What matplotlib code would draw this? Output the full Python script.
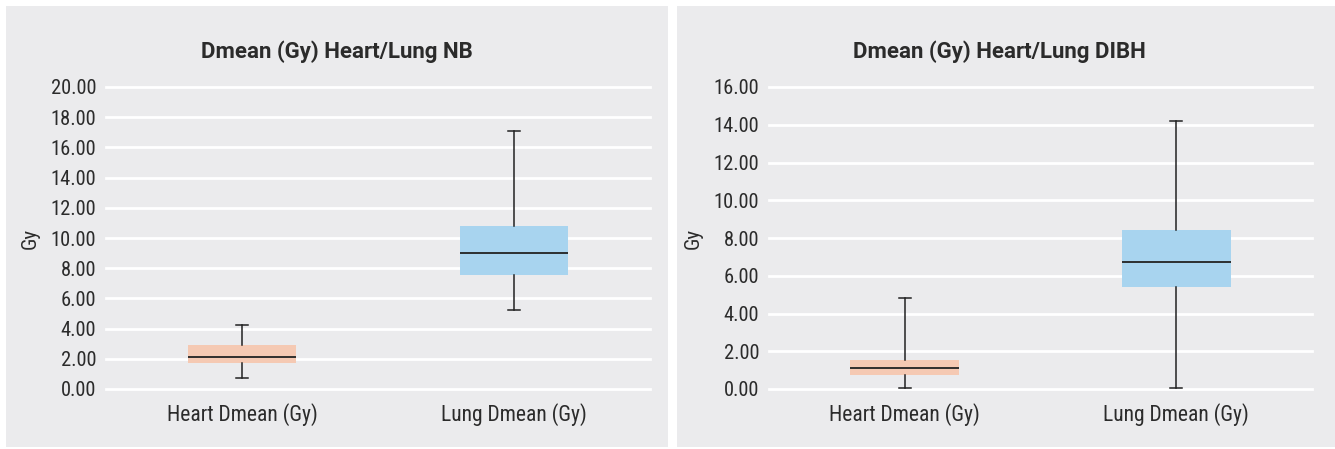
import matplotlib
matplotlib.use("Agg")
import matplotlib.pyplot as plt
from matplotlib.patches import Rectangle

# Box plot values (Gy)
categories = ["Heart Dmean (Gy)", "Lung Dmean (Gy)"]

nb_min = [0.70, 5.25]
nb_q1 = [1.72, 7.58]
nb_med = [2.15, 9.00]
nb_q3 = [2.93, 10.78]
nb_max = [4.22, 17.10]

dibh_min = [0.07, 0.05]
dibh_q1 = [0.76, 5.42]
dibh_med = [1.09, 6.75]
dibh_q3 = [1.54, 8.45]
dibh_max = [4.82, 14.22]

box_colors = ["#F5C9B3", "#A8D4EF"]
panel_bg = "#EBEBED"
text_col = "#2B2B2B"

plt.rcParams["font.family"] = ["Roboto Condensed", "Roboto", "DejaVu Sans"]

fig = plt.figure(figsize=(13.35, 4.49), dpi=100)
fig.patch.set_facecolor("white")

# grey panel cards
W, H = 1335, 449
panels = [(6, 668), (677, 1335)]
for x0, x1 in panels:
    fig.patches.append(Rectangle((x0 / W, 2 / H), (x1 - x0) / W, 441 / H,
                                 transform=fig.transFigure, facecolor=panel_bg,
                                 edgecolor="none", zorder=-5))


def draw_panel(ax, title, cx, mins, q1s, meds, q3s, maxs, ymax, step):
    stats = []
    for i, lab in enumerate(categories):
        stats.append({"label": lab, "whislo": mins[i], "q1": q1s[i], "med": meds[i],
                      "q3": q3s[i], "whishi": maxs[i]})
    res = ax.bxp(stats, positions=[0, 1], widths=0.4, patch_artist=True, showfliers=False,
                 boxprops=dict(linewidth=0),
                 medianprops=dict(color="#222222", linewidth=1.3),
                 whiskerprops=dict(color="#222222", linewidth=1.1),
                 capprops=dict(color="#222222", linewidth=1.1),
                 capwidths=0.045)
    for patch, c in zip(res["boxes"], box_colors):
        patch.set_facecolor(c)
        patch.set_edgecolor("none")
    ax.set_facecolor(panel_bg)
    ax.set_xlim(-0.5, 1.5)
    ax.set_ylim(0, ymax)
    ticks = [i * step for i in range(int(ymax / step) + 1)]
    ax.set_yticks(ticks)
    ax.set_yticklabels([f"{t:.2f}" for t in ticks])
    ax.yaxis.grid(True, color="white", linewidth=2)
    for gl in ax.get_ygridlines():
        gl.set_clip_on(False)
    ax.set_axisbelow(True)
    for s in ax.spines.values():
        s.set_visible(False)
    ax.tick_params(axis="y", length=0, labelsize=14.8, colors=text_col, pad=7)
    ax.tick_params(axis="x", length=0, labelsize=15.5, colors=text_col, pad=10)
    ax.set_ylabel("Gy", fontsize=15, color=text_col, labelpad=8)
    fig.text(cx / W, 1 - 52 / H, title, ha="center", va="center", fontsize=16,
             fontweight="bold", color=text_col, family=["Roboto", "DejaVu Sans"])


ax1 = fig.add_axes([106 / W, 1 - 389 / H, (650 - 106) / W, (389 - 87) / H])
draw_panel(ax1, "Dmean (Gy) Heart/Lung NB", 337,
           nb_min, nb_q1, nb_med, nb_q3, nb_max, 20, 2)

ax2 = fig.add_axes([769 / W, 1 - 389 / H, (1312 - 769) / W, (389 - 87) / H])
draw_panel(ax2, "Dmean (Gy) Heart/Lung DIBH", 999,
           dibh_min, dibh_q1, dibh_med, dibh_q3, dibh_max, 16, 2)

fig.savefig("out.png", dpi=100, facecolor="white")
